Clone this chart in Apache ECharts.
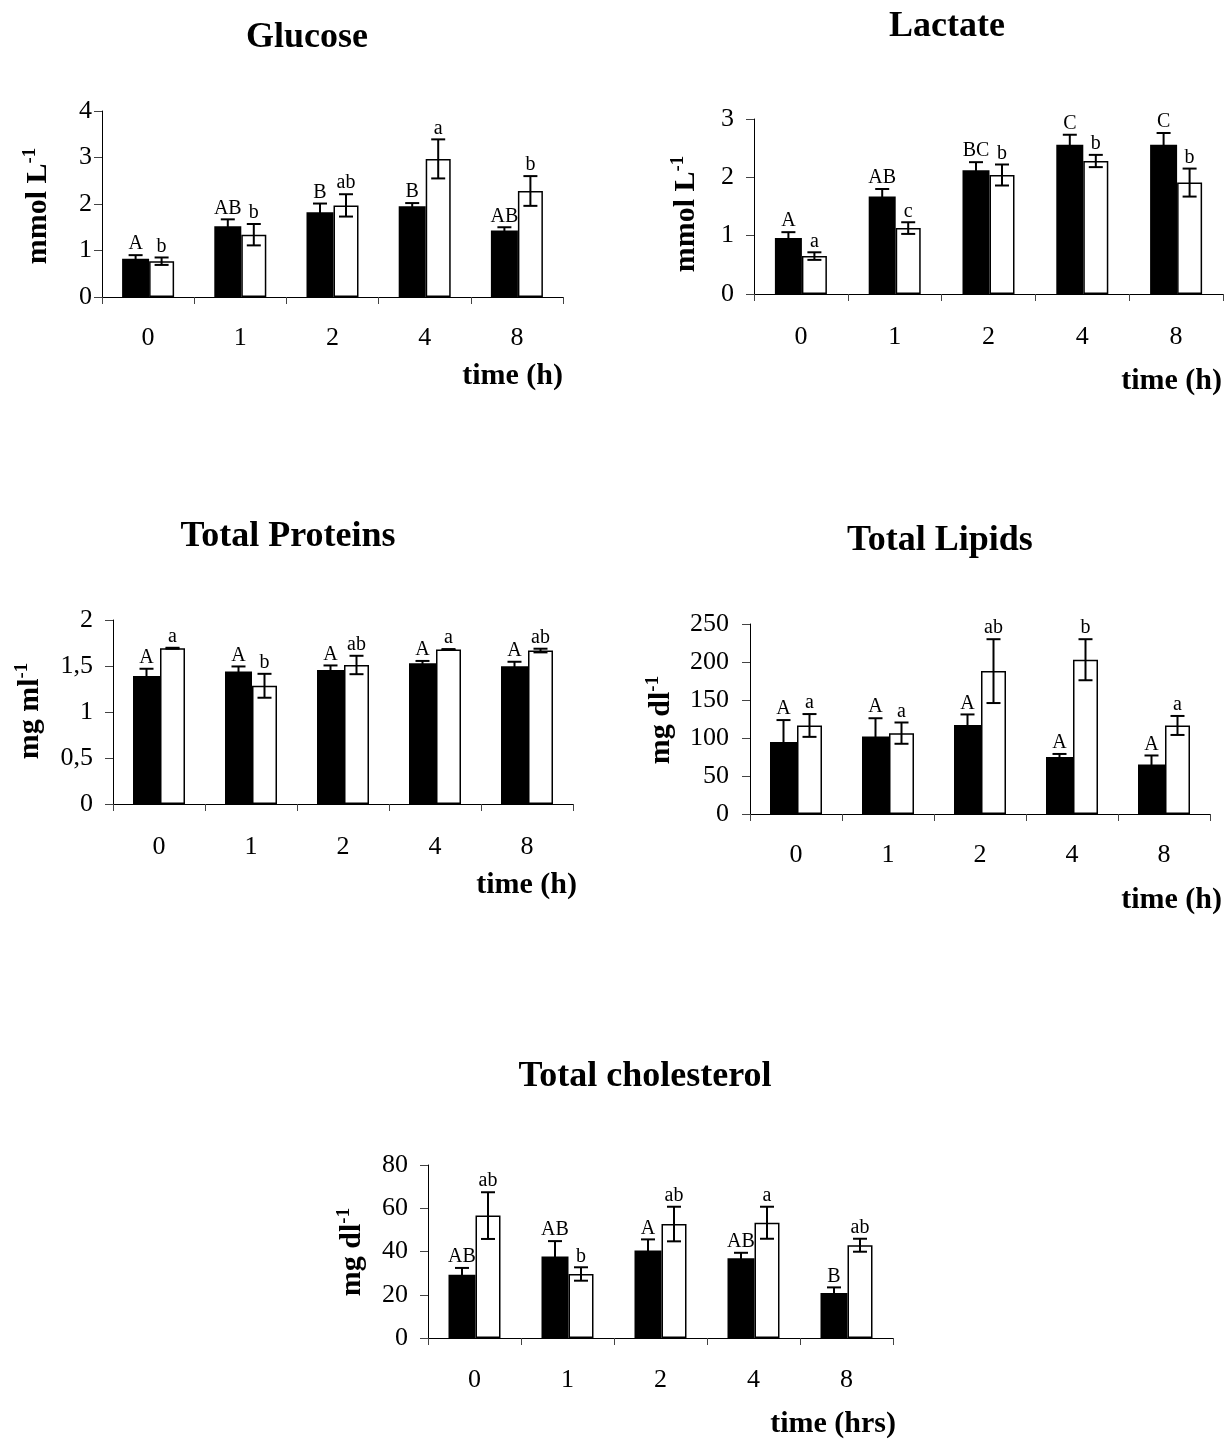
<!DOCTYPE html>
<html><head><meta charset="utf-8">
<script src="https://cdn.jsdelivr.net/npm/echarts@6/dist/echarts.min.js"></script>
<style>html,body{margin:0;padding:0;background:#fff}#c{width:1224px;height:1439px}</style>
</head><body><div id="c"></div>
<script>
// ---------- data ----------
const times = ['0', '1', '2', '4', '8'];

const glucoseBlack = [0.82, 1.52, 1.82, 1.95, 1.43];
const glucoseBlackErr = [0.08, 0.15, 0.19, 0.07, 0.07];
const glucoseWhite = [0.77, 1.34, 1.97, 2.97, 2.28];
const glucoseWhiteErr = [0.08, 0.23, 0.24, 0.42, 0.32];
const glucoseBlackLabels = ['A', 'AB', 'B', 'B', 'AB'];
const glucoseWhiteLabels = ['b', 'b', 'ab', 'a', 'b'];

const lactateBlack = [0.96, 1.67, 2.12, 2.56, 2.56];
const lactateBlackErr = [0.10, 0.13, 0.14, 0.17, 0.20];
const lactateWhite = [0.65, 1.13, 2.04, 2.28, 1.91];
const lactateWhiteErr = [0.065, 0.10, 0.18, 0.105, 0.24];
const lactateBlackLabels = ['A', 'AB', 'BC', 'C', 'C'];
const lactateWhiteLabels = ['a', 'c', 'b', 'b', 'b'];

const proteinsBlack = [1.39, 1.44, 1.456, 1.53, 1.496];
const proteinsBlackErr = [0.08, 0.055, 0.05, 0.025, 0.05];
const proteinsWhite = [1.693, 1.285, 1.511, 1.679, 1.668];
const proteinsWhiteErr = [0.005, 0.13, 0.10, 0.005, 0.02];
const proteinsBlackLabels = ['A', 'A', 'A', 'A', 'A'];
const proteinsWhiteLabels = ['a', 'b', 'ab', 'a', 'ab'];

const lipidsBlack = [94.6, 102, 117, 75, 65];
const lipidsBlackErr = [29, 24, 14, 4, 12];
const lipidsWhite = [116.5, 106.4, 188, 203, 116.5];
const lipidsWhiteErr = [15, 14, 42, 27, 12.5];
const lipidsBlackLabels = ['A', 'A', 'A', 'A', 'A'];
const lipidsWhiteLabels = ['a', 'a', 'ab', 'b', 'a'];

const cholBlack = [29.3, 37.7, 40.5, 36.9, 20.8];
const cholBlackErr = [3.1, 7.1, 5.1, 2.5, 2.6];
const cholWhite = [56.6, 29.6, 52.7, 53.3, 42.9];
const cholWhiteErr = [10.8, 3.1, 8.0, 7.4, 3.0];
const cholBlackLabels = ['AB', 'AB', 'A', 'AB', 'B'];
const cholWhiteLabels = ['ab', 'b', 'ab', 'a', 'ab'];

const titles = ['Glucose', 'Lactate', 'Total Proteins', 'Total Lipids', 'Total cholesterol'];
const unitMain = ['mmol L', 'mmol L', 'mg ml', 'mg dl', 'mg dl'];
const unitSup = ['-1', '-1', '-1', '-1', '-1'];
const timeLabels = ['time (h)', 'time (h)', 'time (h)', 'time (h)', 'time (hrs)'];
const yMax = [4, 3, 2, 250, 80];
const yInterval = [1, 1, 0.5, 50, 20];

// ---------- layout (positions & styles only) ----------
const layouts = [
  { grid: { left: 102, top: 111, width: 461, height: 186 }, title: [307, 38], time: [563, 376], yname: [38, 206], margin: 28, ymargin: 10 },
  { grid: { left: 754, top: 119, width: 469, height: 175 }, title: [947, 27], time: [1222, 381], yname: [686, 214], margin: 30, ymargin: 20 },
  { grid: { left: 113, top: 620, width: 460, height: 184 }, title: [288, 537], time: [577, 885], yname: [30, 711], margin: 30, ymargin: 20 },
  { grid: { left: 750, top: 624, width: 460, height: 190 }, title: [940, 541], time: [1222, 900], yname: [661, 720], margin: 28, ymargin: 21 },
  { grid: { left: 428, top: 1165, width: 465, height: 173 }, title: [645, 1077], time: [896, 1424], yname: [352, 1252], margin: 29, ymargin: 20 }
];

const panelSeries = [
  [glucoseBlack, glucoseBlackErr, glucoseWhite, glucoseWhiteErr, glucoseBlackLabels, glucoseWhiteLabels],
  [lactateBlack, lactateBlackErr, lactateWhite, lactateWhiteErr, lactateBlackLabels, lactateWhiteLabels],
  [proteinsBlack, proteinsBlackErr, proteinsWhite, proteinsWhiteErr, proteinsBlackLabels, proteinsWhiteLabels],
  [lipidsBlack, lipidsBlackErr, lipidsWhite, lipidsWhiteErr, lipidsBlackLabels, lipidsWhiteLabels],
  [cholBlack, cholBlackErr, cholWhite, cholWhiteErr, cholBlackLabels, cholWhiteLabels]
];

const FONT = "'Liberation Serif', 'Times New Roman', serif";
const BLACK_W = 27, WHITE_W = 25;
const BLACK_OFF = -(BLACK_W + WHITE_W) / 2 + BLACK_W / 2;
const WHITE_OFF = -(BLACK_W + WHITE_W) / 2 + BLACK_W + WHITE_W / 2;

function errRenderer(offset, labels) {
  return function (params, api) {
    const idx = api.value(0), v = api.value(1), e = api.value(2);
    const top = api.coord([idx, v + e]);
    const bot = api.coord([idx, v - e]);
    const cx = top[0] + offset;
    const cap = 7;
    const ls = { stroke: '#000', lineWidth: 2 };
    return {
      type: 'group',
      children: [
        { type: 'line', shape: { x1: cx, y1: top[1], x2: cx, y2: bot[1] }, style: ls },
        { type: 'line', shape: { x1: cx - cap, y1: top[1], x2: cx + cap, y2: top[1] }, style: ls },
        { type: 'line', shape: { x1: cx - cap, y1: bot[1], x2: cx + cap, y2: bot[1] }, style: ls },
        { type: 'text', x: cx, y: top[1] - 1,
          style: { text: labels[params.dataIndex], fill: '#000', font: '20px ' + FONT,
                   align: 'center', verticalAlign: 'bottom' } }
      ]
    };
  };
}

const grids = [], xAxes = [], yAxes = [], series = [], graphics = [];
layouts.forEach((L, i) => {
  const [bV, bE, wV, wE, bL, wL] = panelSeries[i];
  grids.push(Object.assign({ containLabel: false, outerBoundsMode: 'none' }, L.grid));
  xAxes.push({
    type: 'category', gridIndex: i, data: times, boundaryGap: true,
    axisLine: { show: true, lineStyle: { color: '#000', width: 1 } },
    axisTick: { show: true, length: 7, lineStyle: { color: '#444', width: 1 } },
    axisLabel: { color: '#000', fontSize: 26, fontFamily: FONT, margin: L.margin },
    splitLine: { show: false }
  });
  yAxes.push({
    type: 'value', gridIndex: i, min: 0, max: yMax[i], interval: yInterval[i],
    axisLine: { show: true, lineStyle: { color: '#000', width: 1 } },
    axisTick: { show: true, length: 8, lineStyle: { color: '#444', width: 1 } },
    axisLabel: { color: '#000', fontSize: 26, fontFamily: FONT, margin: L.ymargin,
                 formatter: v => String(v).replace('.', ',') },
    splitLine: { show: false }
  });
  series.push({
    type: 'bar', xAxisIndex: i, yAxisIndex: i, data: bV, barWidth: BLACK_W, barGap: '0%',
    itemStyle: { color: '#000' }, z: 2
  });
  series.push({
    type: 'bar', xAxisIndex: i, yAxisIndex: i, data: wV, barWidth: WHITE_W, barGap: '0%',
    itemStyle: { color: '#fff', borderColor: '#000', borderWidth: 1.5 }, z: 2
  });
  series.push({
    type: 'custom', xAxisIndex: i, yAxisIndex: i, z: 5, clip: false,
    data: bV.map((v, k) => [k, v, bE[k]]), encode: { x: 0, y: 1 },
    renderItem: errRenderer(BLACK_OFF, bL)
  });
  series.push({
    type: 'custom', xAxisIndex: i, yAxisIndex: i, z: 5, clip: false,
    data: wV.map((v, k) => [k, v, wE[k]]), encode: { x: 0, y: 1 },
    renderItem: errRenderer(WHITE_OFF, wL)
  });
  graphics.push({
    type: 'text', x: L.title[0], y: L.title[1],
    style: { text: titles[i], fill: '#000', font: 'bold 36px ' + FONT, align: 'center', verticalAlign: 'middle' }
  });
  graphics.push({
    type: 'text', x: L.time[0], y: L.time[1],
    style: { text: timeLabels[i], fill: '#000', font: 'bold 30px ' + FONT, align: 'right', verticalAlign: 'middle' }
  });
  graphics.push({
    type: 'text', x: L.yname[0], y: L.yname[1], rotation: Math.PI / 2,
    style: {
      text: '{m|' + unitMain[i] + '}{s|' + unitSup[i] + '}',
      align: 'center', verticalAlign: 'middle',
      rich: {
        m: { fontSize: 30, fontWeight: 'bold', fontFamily: FONT, fill: '#000', lineHeight: 34 },
        s: { fontSize: 19, fontWeight: 'bold', fontFamily: FONT, fill: '#000', verticalAlign: 'top', lineHeight: 19 }
      }
    }
  });
});

const chart = echarts.init(document.getElementById('c'));
chart.setOption({
  animation: false,
  backgroundColor: '#fff',
  grid: grids, xAxis: xAxes, yAxis: yAxes, series: series,
  graphic: graphics
});
</script></body></html>
